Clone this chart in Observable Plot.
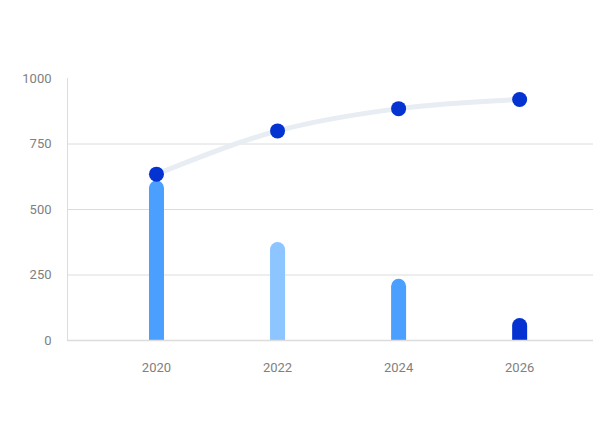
<!DOCTYPE html>
<html>
<head>
<meta charset="utf-8">
<script src="https://cdn.jsdelivr.net/npm/d3@7"></script>
<script src="https://cdn.jsdelivr.net/npm/@observablehq/plot@0.6"></script>
<style>
  html, body { margin: 0; padding: 0; background: #fff; }
  #chart svg { display: block; }
</style>
</head>
<body>
<div id="chart"></div>
<script>
const years = [2020, 2022, 2024, 2026];
const barValues = [580, 345, 205, 55];
const barColors = ["#4a9fff", "#8cc5ff", "#4a9fff", "#0433d1"];
const lineValues = [635, 800, 885, 920];
const yTicks = [0, 250, 500, 750, 1000];

const bars = years.map((y, i) => ({year: y, value: barValues[i], color: barColors[i]}));
const line = years.map((y, i) => ({year: y, value: lineValues[i]}));

const chart = Plot.plot({
  width: 600,
  height: 445,
  marginLeft: 67,
  marginRight: 7,
  marginTop: 78,
  marginBottom: 105,
  style: {fontFamily: "Roboto, sans-serif", fontSize: "13px", color: "#777", background: "#fff"},
  x: {domain: [2018.53, 2027.22], label: null},
  y: {domain: [0, 1000], label: null},
  marks: [
    Plot.ruleY([250, 500, 750], {stroke: "#dcdcdc", strokeWidth: 1}),
    Plot.ruleX([2018.53], {y1: 0, y2: 1000, stroke: "#dcdcdc", strokeWidth: 1}),
    Plot.ruleX(bars, {x: "year", y1: 0, y2: "value", stroke: "color", strokeWidth: 15, strokeLinecap: "round", clip: true}),
    Plot.ruleY([0], {stroke: "#dcdcdc", strokeWidth: 1.5}),
    Plot.line(line, {x: "year", y: "value", stroke: "#e7edf3", strokeWidth: 5, curve: "monotone-x"}),
    Plot.dot(line, {x: "year", y: "value", r: 7.5, fill: "#0433d1"}),
    Plot.axisY({ticks: yTicks, tickFormat: d => String(d), tickSize: 0, tickPadding: 16, fill: "#808080", fontSize: 13, label: null}),
    Plot.axisX({ticks: years, tickFormat: d => String(d), tickSize: 0, tickPadding: 22, fill: "#808080", fontSize: 13, label: null})
  ]
});
document.getElementById("chart").appendChild(chart);
</script>
</body>
</html>
